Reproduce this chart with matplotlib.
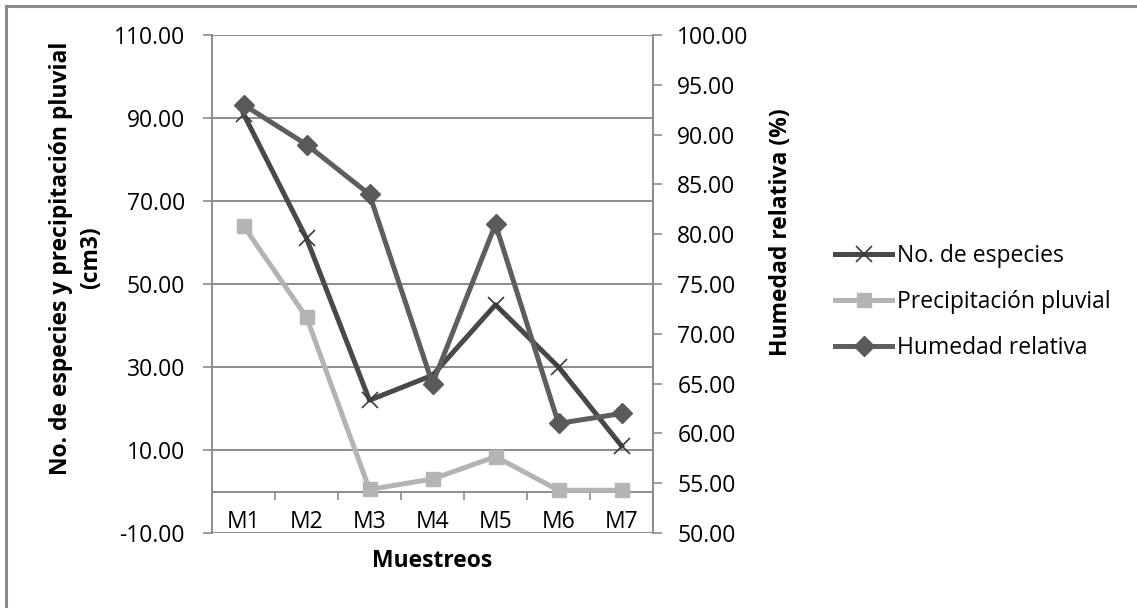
import matplotlib
matplotlib.use("Agg")
import matplotlib.pyplot as plt
from matplotlib.ticker import FormatStrFormatter, FixedLocator
from matplotlib.patches import Rectangle

plt.rcParams['font.family'] = ['Open Sans', 'DejaVu Sans']

# data
muestreos = ['M1', 'M2', 'M3', 'M4', 'M5', 'M6', 'M7']
especies = [91, 61, 22, 28, 45, 30, 11]
precipitacion = [64, 42, 0.5, 3, 8.4, 0.3, 0.3]
humedad = [93, 89, 84, 65, 81, 61, 62]

FS = 16.5
GRID = '#8c8c8c'

fig = plt.figure(figsize=(11.37, 6.08), dpi=100)
fig.patch.set_facecolor('white')

# outer chart border (only top/left visible in the original crop)
fig.patches.append(Rectangle((6 / 1137, -0.05), 1.2, 1 - 6 / 608 + 0.05,
                             transform=fig.transFigure, fill=False,
                             edgecolor='#8a8a8a', linewidth=2.2))

ax = fig.add_axes([212 / 1137, 1 - 533 / 608, 441 / 1137, 498 / 608])
ax2 = ax.twinx()

x = list(range(len(muestreos)))

ax.plot(x, especies, color='#494949', lw=3.6, marker='x', ms=12, mew=1.2,
        mec='#3a3a3a', label='No. de especies', zorder=3)
ax.plot(x, precipitacion, color='#b4b4b4', lw=3.6, marker='s', ms=9.5,
        mfc='#b4b4b4', mec='#b4b4b4', label='Precipitación pluvial', zorder=3)
ax2.plot(x, humedad, color='#5e5e5e', lw=3.6, marker='D', ms=10.5,
         mfc='#5a5a5a', mec='#5a5a5a', label='Humedad relativa', zorder=3)

# left axis
ax.set_xlim(-0.5, 6.5)
ax.set_ylim(-10, 110)
ax.set_yticks([-10, 10, 30, 50, 70, 90, 110])
ax.yaxis.set_major_formatter(FormatStrFormatter('%.2f'))
ax.grid(axis='y', color=GRID, lw=1.4)
ax.set_axisbelow(True)
ax.tick_params(axis='y', direction='out', length=6.5, width=1.2, color=GRID,
               pad=13, labelsize=FS)

# category axis crosses at 0
ax.spines['bottom'].set_position(('data', 0))
ax.spines['top'].set_visible(False)
for s in ['left', 'right', 'bottom']:
    ax.spines[s].set_color(GRID)
    ax.spines[s].set_linewidth(1.4)
ax.set_xticks(x)
ax.set_xticklabels(muestreos)
ax.tick_params(axis='x', which='major', length=0, pad=13, labelsize=FS)
ax.xaxis.set_minor_locator(FixedLocator([i + 0.5 for i in x[:-1]]))
ax.tick_params(axis='x', which='minor', direction='out', length=6, width=1.2,
               color=GRID)

# right axis
ax2.set_ylim(50, 100)
ax2.set_yticks(range(50, 101, 5))
ax2.yaxis.set_major_formatter(FormatStrFormatter('%.2f'))
ax2.tick_params(axis='y', direction='out', length=6.5, width=1.2, color=GRID,
                pad=11, labelsize=FS)
for s in ['top', 'bottom', 'left']:
    ax2.spines[s].set_visible(False)
ax2.spines['right'].set_color(GRID)
ax2.spines['right'].set_linewidth(1.4)

# axis titles
ax.set_ylabel('No. de especies y precipitación pluvial\n(cm3)',
              fontsize=FS, fontweight='bold', linespacing=1.35)
ax.yaxis.set_label_coords(-0.246, 0.552)
ax2.set_ylabel('Humedad relativa (%)', fontsize=FS, fontweight='bold')
ax2.yaxis.set_label_coords(1.262, 0.605)
fig.text((212 + 441 / 2) / 1137, 1 - 561 / 608, 'Muestreos', fontsize=FS,
         fontweight='bold', ha='center', va='center')

# legend
h1, l1 = ax.get_legend_handles_labels()
h2, l2 = ax2.get_legend_handles_labels()
fig.legend(h1 + h2, l1 + l2, loc='center left',
           bbox_to_anchor=(835 / 1137, 1 - 302 / 608),
           bbox_transform=fig.transFigure, frameon=False, fontsize=FS,
           handlelength=2.5, handletextpad=0.22, labelspacing=0.95,
           borderpad=0, borderaxespad=0)

fig.savefig('out.png', dpi=100, facecolor='white')
